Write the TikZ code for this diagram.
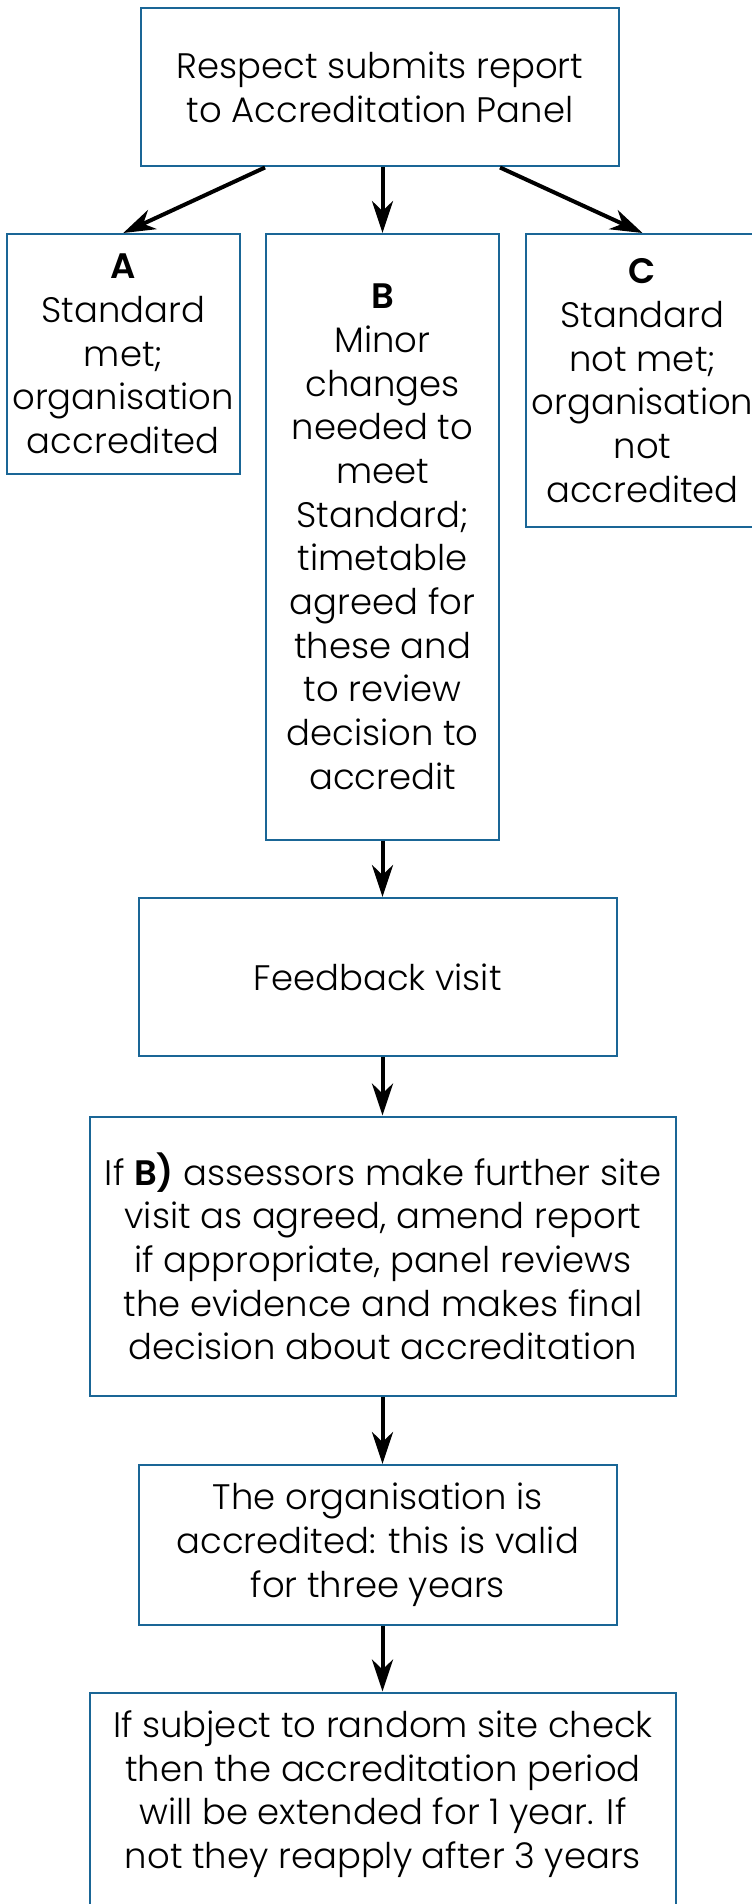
\documentclass[tikz,border=0pt]{standalone}
\usepackage{fontspec}
\setmainfont{Poppins Light}[BoldFont={Poppins SemiBold}]
\usetikzlibrary{positioning,arrows.meta}
\definecolor{boxblue}{RGB}{26,102,150}

\begin{document}
\begin{tikzpicture}[x=1pt,y=1pt,
	box/.style={draw=boxblue,line width=1pt,align=center,inner sep=0pt,
		font=\fontsize{17.7}{21.85}\selectfont},
	flow/.style={-{Stealth[length=16pt,width=10.5pt,inset=5pt]},line width=2pt}]

\useasboundingbox(0,0)rectangle(375.5,-952);

\node[box,minimum width=238.75pt,minimum height=79pt](report) at (190,-43.75){Respect submits report\\to Accreditation Panel};
\node[box,minimum width=116.5pt,minimum height=302.75pt,anchor=north](b) at (191.25,-116.5){\textbf{B}\\Minor\\changes\\needed to\\meet\\Standard;\\timetable\\agreed for\\these and\\to review\\decision to\\accredit};
\node[box,minimum width=116.75pt,minimum height=120pt,anchor=north east](a) at ([xshift=-12pt]b.north west){\textbf{A}\\Standard\\met;\\organisation\\accredited};
\node[box,minimum width=116.5pt,minimum height=146.5pt,anchor=north west](c) at ([xshift=12.5pt]b.north east){\textbf{C}\\Standard\\not met;\\organisation\\not\\accredited};
\node[box,minimum width=239.25pt,minimum height=79pt](visit)[below=28.25pt of b,xshift=-2.35pt]{Feedback visit};
\node[box,minimum width=293pt,minimum height=139.75pt](review)[below=29.25pt of visit,xshift=2.6pt]{If \textbf{B)} assessors make further site\\visit as agreed, amend report\\if appropriate, panel reviews\\the evidence and makes final\\decision about accreditation};
\node[box,minimum width=239.25pt,minimum height=79.75pt](valid)[below=33.5pt of review,xshift=-2.6pt]{The organisation is\\accredited: this is valid\\for three years};
\node[box,minimum width=293pt,inner ysep=9pt,text depth=110pt](recheck)[below=33pt of valid,xshift=2.6pt]{If subject to random site check\\then the accreditation period\\will be extended for 1 year. If\\not they reapply after 3 years};

\path[flow](report.south -| b.west)edge(a.north)
	(report.south -| b)edge(b.north)
	(report.south -| b.east)edge(c.north)
	(b.south)edge(b.south |- visit.north)
	(visit.south -| b)edge(review.north -| b)
	(review.south -| b)edge(valid.north -| b)
	(valid.south -| b)edge(recheck.north -| b);

\end{tikzpicture}
\end{document}
